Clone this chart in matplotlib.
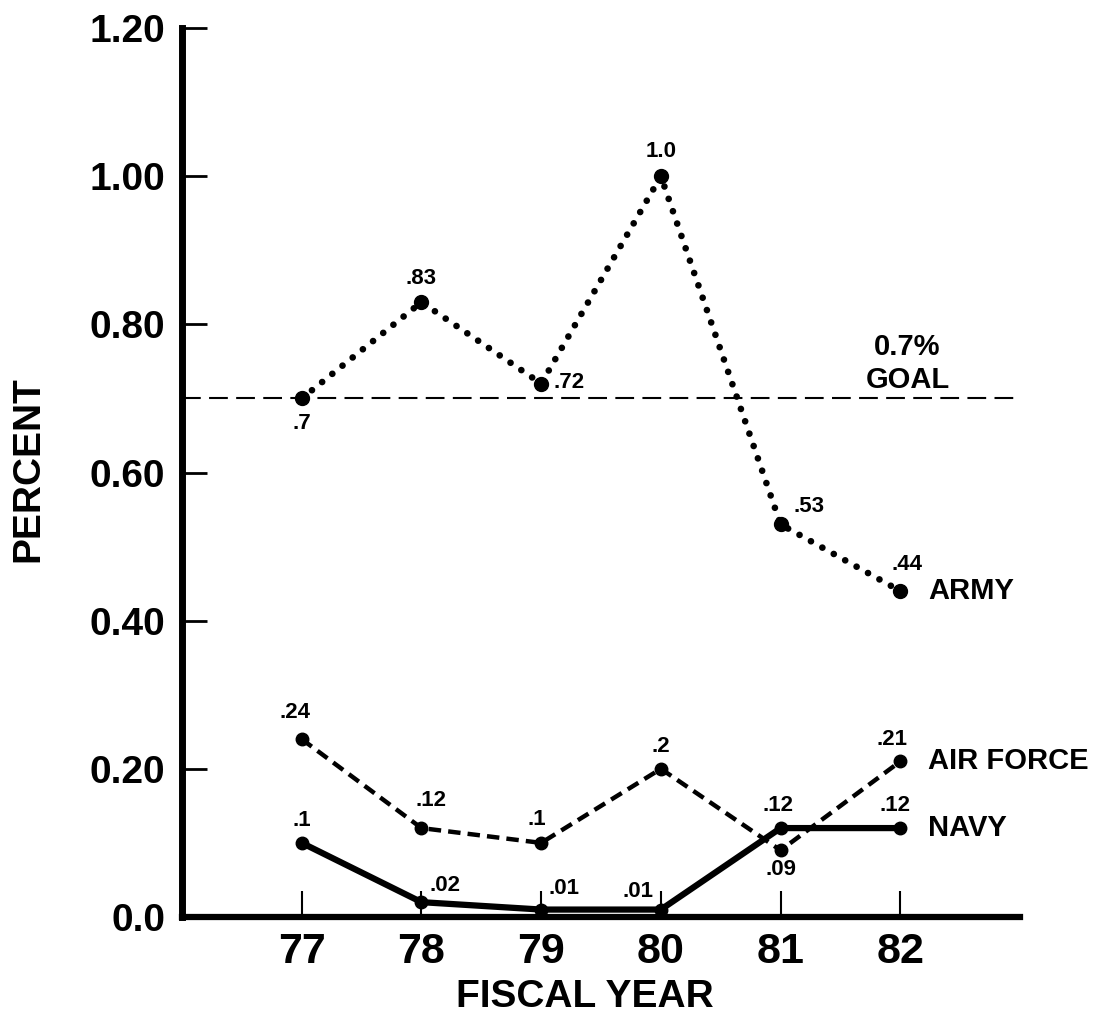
import numpy as np
import matplotlib
matplotlib.use("Agg")
import matplotlib.pyplot as plt

plt.rcParams['font.family'] = ['Liberation Sans', 'DejaVu Sans']
plt.rcParams['font.weight'] = 'bold'

# data
years = [77, 78, 79, 80, 81, 82]
army = [0.70, 0.83, 0.72, 1.00, 0.53, 0.44]
air_force = [0.24, 0.12, 0.10, 0.20, 0.09, 0.21]
navy = [0.10, 0.02, 0.01, 0.01, 0.12, 0.12]
army_lbl = [".7", ".83", ".72", "1.0", ".53", ".44"]
af_lbl = [".24", ".12", ".1", ".2", ".09", ".21"]
navy_lbl = [".1", ".02", ".01", ".01", ".12", ".12"]
goal = 0.7
yticks = [0.0, 0.2, 0.4, 0.6, 0.8, 1.0, 1.2]
ytick_lbl = ["0.0", "0.20", "0.40", "0.60", "0.80", "1.00", "1.20"]

fig = plt.figure(figsize=(11.08, 10.31), dpi=100)
ax = fig.add_axes([0.1643, 0.1106, 0.7563, 0.8622])

# goal line
ax.axhline(goal, color='black', lw=1.5, dashes=(9, 4), zorder=1)

# army - dotted
ax.plot(years, army, color='black', lw=4.8, dashes=(0.01, 1.95),
        dash_capstyle='round', marker='o', markersize=10, zorder=3)
# air force - dashed
ax.plot(years, air_force, color='black', lw=3.2, dashes=(2.8, 1.6),
        marker='o', markersize=9, zorder=3)
# navy - solid
ax.plot(years, navy, color='black', lw=4.5, marker='o', markersize=9,
        zorder=3)

fs = 16
# (dx, dy, ha, va) offsets in points
army_off = [(0, -18, 'center', 'center'), (0, 17, 'center', 'center'),
            (9, 1, 'left', 'center'), (0, 18, 'center', 'center'),
            (9, 13, 'left', 'center'), (5, 19, 'center', 'center')]
af_off = [(-5, 19, 'center', 'center'), (7, 20, 'center', 'center'),
          (-3, 17, 'center', 'center'), (0, 16, 'center', 'center'),
          (0, -14, 'center', 'center'), (-6, 16, 'center', 'center')]
navy_off = [(0, 16, 'center', 'center'), (6, 12, 'left', 'center'),
            (5, 15, 'left', 'center'), (-5, 13, 'right', 'center'),
            (-2, 16, 'center', 'center'), (-4, 16, 'center', 'center')]

for vals, lbls, offs in [(army, army_lbl, army_off),
                         (air_force, af_lbl, af_off),
                         (navy, navy_lbl, navy_off)]:
    for x, y, t, (dx, dy, ha, va) in zip(years, vals, lbls, offs):
        ax.annotate(t, (x, y), xytext=(dx, dy), textcoords='offset points',
                    ha=ha, va=va, fontsize=fs, fontweight='bold')

# series names
ax.text(82.23, army[-1], "ARMY", fontsize=21, fontweight='bold',
        va='center', ha='left')
ax.text(82.23, air_force[-1], "AIR FORCE", fontsize=21, fontweight='bold',
        va='center', ha='left')
ax.text(82.23, navy[-1], "NAVY", fontsize=21, fontweight='bold',
        va='center', ha='left')

# goal text
ax.text(82.06, 0.77, "0.7%", fontsize=21, fontweight='bold',
        ha='center', va='center')
ax.text(82.06, 0.725, "GOAL", fontsize=21, fontweight='bold',
        ha='center', va='center')

ax.set_xlim(76, 83)
ax.set_ylim(0, 1.2)
ax.set_xticks(years)
ax.set_xticklabels([str(y) for y in years], fontsize=31, fontweight='bold')
ax.set_yticks(yticks)
ax.set_yticklabels(ytick_lbl, fontsize=28, fontweight='bold')

ax.tick_params(axis='y', direction='in', length=18, width=2, pad=12)
ax.tick_params(axis='x', direction='in', length=19, width=1.5, pad=11)

for s in ['top', 'right']:
    ax.spines[s].set_visible(False)
ax.spines['left'].set_linewidth(5)
ax.spines['bottom'].set_linewidth(4.5)

fig.text(0.528, 0.033, "FISCAL YEAR", fontsize=28, fontweight='bold',
         ha='center', va='center')
fig.text(0.026, 0.545, "PERCENT", fontsize=28, fontweight='bold',
         ha='center', va='center', rotation=90)

fig.savefig("out.png", dpi=100)
